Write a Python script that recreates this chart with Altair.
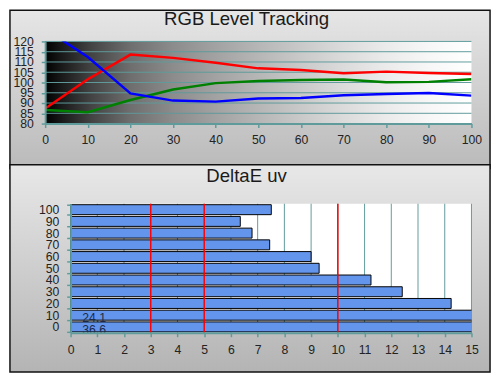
import altair as alt
import pandas as pd

# ---------------- data ----------------
levels = [0, 10, 20, 30, 40, 50, 60, 70, 80, 90, 100]
red = [87.3, 101.6, 113.6, 112.0, 109.6, 106.9, 106.1, 104.5, 105.3, 104.6, 104.1]
green = [86.6, 85.5, 91.5, 96.6, 99.7, 100.7, 101.2, 101.5, 100.1, 100.3, 101.6]
blue = [126.0, 112.4, 94.7, 91.2, 90.7, 92.2, 92.5, 93.8, 94.4, 94.9, 93.6]
y_ticks = [80, 85, 90, 95, 100, 105, 110, 115, 120]
x_ticks = levels

de_levels = [0, 10, 20, 30, 40, 50, 60, 70, 80, 90, 100]
de_values = [36.6, 24.1, 14.24, 12.41, 11.24, 9.30, 9.0, 7.45, 6.79, 6.35, 7.51]
de_ticks = list(range(0, 16))
limits = [3, 5, 10]

titles = ["RGB Level Tracking", "DeltaE uv"]

# ---------------- style ----------------
TEAL = "#5f9b9b"
FONT = "Liberation Sans"
W = 436
H1 = 84
H2 = 132
GAP = 82   # vertical distance between the two plot areas
BOFF = 26  # bottom plot starts this many px right of the shared origin

lines_df = pd.DataFrame({
    "level": levels * 3,
    "value": red + green + blue,
    "ch": ["R"] * len(levels) + ["G"] * len(levels) + ["B"] * len(levels),
})
one = pd.DataFrame({"k": [0]})

panel_grad1 = alt.LinearGradient(
    gradient="linear", x1=0, y1=0, x2=0, y2=1,
    stops=[alt.GradientStop(color="#e6e6e6", offset=0),
           alt.GradientStop(color="#bababa", offset=1)])
panel_grad2 = alt.LinearGradient(
    gradient="linear", x1=0, y1=0, x2=0, y2=1,
    stops=[alt.GradientStop(color="#e8e8e8", offset=0),
           alt.GradientStop(color="#b4b4b4", offset=1)])
plot_grad = alt.LinearGradient(
    gradient="linear", x1=0, y1=0, x2=1, y2=0,
    stops=[alt.GradientStop(color="#000000", offset=0),
           alt.GradientStop(color="#1a1a1a", offset=0.04),
           alt.GradientStop(color="#444444", offset=0.11),
           alt.GradientStop(color="#6e6e6e", offset=0.2),
           alt.GradientStop(color="#8c8c8c", offset=0.3),
           alt.GradientStop(color="#a2a2a2", offset=0.4),
           alt.GradientStop(color="#b6b6b6", offset=0.5),
           alt.GradientStop(color="#c9c9c9", offset=0.6),
           alt.GradientStop(color="#dbdbdb", offset=0.7),
           alt.GradientStop(color="#ebebeb", offset=0.8),
           alt.GradientStop(color="#f7f7f7", offset=0.9),
           alt.GradientStop(color="#ffffff", offset=1)])

# ---------------- top panel ----------------
xs1 = alt.Scale(domain=[x_ticks[0], x_ticks[-1]], nice=False)
ys1 = alt.Scale(domain=[y_ticks[0], y_ticks[-1]], nice=False)
ax_x1 = alt.Axis(values=x_ticks, title=None, tickSize=4, labelPadding=6, zindex=1)
ax_y1 = alt.Axis(values=y_ticks, title=None, tickSize=4, labelPadding=8, zindex=1)

frame1 = alt.Chart(one).mark_rect(fill=panel_grad1, stroke="#111111", strokeWidth=1.5).encode(
    x=alt.value(-36), x2=alt.value(455), y=alt.value(-32), y2=alt.value(130))

title1 = alt.Chart(pd.DataFrame({"t": [titles[0]]})).mark_text(
    align="center", baseline="top", fontSize=19, font=FONT, color="#1a1a1a").encode(
    x=alt.value(206), y=alt.value(-32), text="t:N")

bg1 = alt.Chart(one).mark_rect(fill=plot_grad).encode(
    x=alt.X(datum=x_ticks[0], type="quantitative", scale=xs1, axis=ax_x1),
    x2=alt.X2(datum=x_ticks[-1]),
    y=alt.Y(datum=y_ticks[0], type="quantitative", scale=ys1, axis=ax_y1),
    y2=alt.Y2(datum=y_ticks[-1]))

grid1 = alt.Chart(pd.DataFrame({"level": y_ticks})).mark_rule(color=TEAL, strokeWidth=1).encode(
    y=alt.Y("level:Q", scale=ys1, axis=ax_y1))

lines = alt.Chart(lines_df).mark_line(strokeWidth=2.5, clip=True).encode(
    x=alt.X("level:Q", scale=xs1, axis=ax_x1),
    y=alt.Y("value:Q", scale=ys1, axis=ax_y1),
    color=alt.Color("ch:N", scale=alt.Scale(domain=["R", "G", "B"],
                                            range=["#ff0000", "#008000", "#0000ff"]),
                    legend=None),
)

top = alt.layer(frame1, title1, bg1, grid1, lines).properties(width=W, height=H1)

# ---------------- bottom panel ----------------
bars_df = pd.DataFrame({"level": de_levels, "de": de_values})
bars_df["lbl"] = bars_df["de"].map(lambda v: f"{v:.1f}")
over_df = bars_df[bars_df["de"] > de_ticks[-1]]

xs2 = alt.Scale(domain=[de_ticks[0], de_ticks[-1]], range=[BOFF, W], nice=False)
ys2 = alt.Scale(paddingInner=0.15, paddingOuter=0.08)
ysort = sorted(de_levels, reverse=True)
ax_x2 = alt.Axis(values=de_ticks, title=None, tickSize=4, labelPadding=7, zindex=1)
ax_y2 = alt.Axis(title=None, tickBand="extent", offset=-BOFF, tickSize=4, labelPadding=8,
                 zindex=1)

frame2 = alt.Chart(one).mark_rect(fill=panel_grad2, stroke="#111111", strokeWidth=1.5).encode(
    x=alt.value(-36), x2=alt.value(455), y=alt.value(-40), y2=alt.value(172))

title2 = alt.Chart(pd.DataFrame({"t": [titles[1]]})).mark_text(
    align="center", baseline="top", fontSize=19, font=FONT, color="#1a1a1a").encode(
    x=alt.value(206), y=alt.value(-37), text="t:N")

bg2 = alt.Chart(one).mark_rect(fill="white").encode(
    x=alt.X(datum=de_ticks[0], type="quantitative", scale=xs2, axis=ax_x2),
    x2=alt.X2(datum=de_ticks[-1]),
    y=alt.value(0), y2=alt.value(H2))

grid2 = alt.Chart(pd.DataFrame({"de": de_ticks[1:]})).mark_rule(color=TEAL, strokeWidth=1).encode(
    x=alt.X("de:Q", scale=xs2, axis=ax_x2))

bars = alt.Chart(bars_df).mark_bar(fill="#6495ED", stroke="#000000", strokeWidth=1, clip=True).encode(
    x=alt.X("de:Q", scale=xs2, axis=ax_x2),
    y=alt.Y("level:O", sort=ysort, scale=ys2, axis=ax_y2),
)

redlines = alt.Chart(pd.DataFrame({"de": limits})).mark_rule(color="#ff0000", strokeWidth=1.5).encode(
    x=alt.X("de:Q", scale=xs2, axis=ax_x2))

labels = alt.Chart(over_df).mark_text(align="left", baseline="alphabetic", dx=12, dy=7,
                                      fontSize=12.5, font=FONT, color="#1c2a48").encode(
    x=alt.X(datum=de_ticks[0], type="quantitative", scale=xs2, axis=ax_x2),
    y=alt.Y("level:O", sort=ysort, scale=ys2, axis=ax_y2),
    text="lbl:N")

bottom = alt.layer(frame2, title2, bg2, grid2, bars, redlines, labels).properties(width=W, height=H2)

chart = alt.vconcat(top, bottom, spacing=GAP, bounds="flush").properties(
    padding={"left": 0, "top": -4, "right": 0, "bottom": 0}, background="white"
).configure_view(stroke="transparent").configure_axis(
    labelFont=FONT, labelFontSize=12.5, labelColor="#222222",
    domainColor=TEAL, domainWidth=2, tickColor=TEAL, tickWidth=1.5,
    grid=False, labelOverlap=False, labelFlush=False,
)

chart.save("out.html", embed_options={"renderer": "svg", "actions": False})
